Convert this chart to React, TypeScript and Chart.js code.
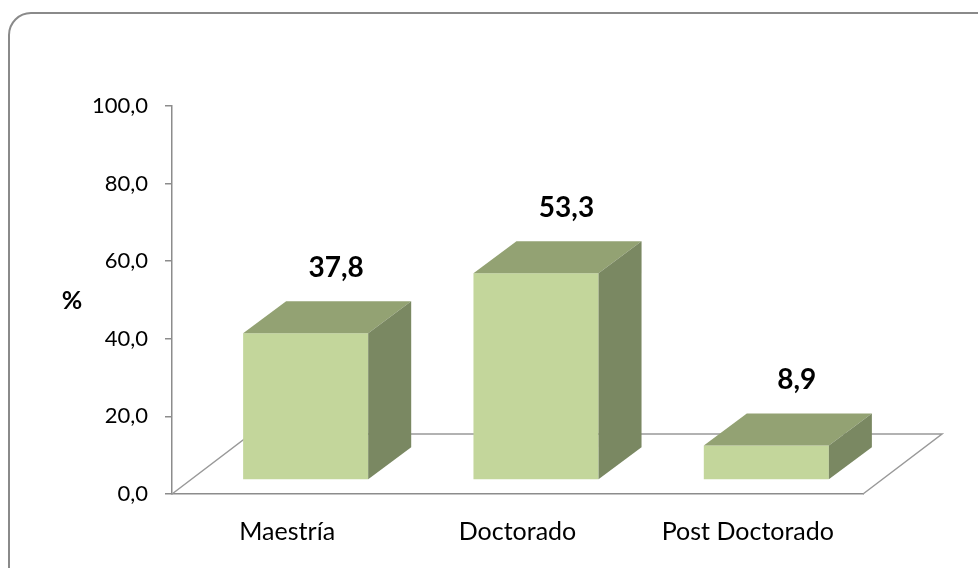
import React, { useEffect, useRef } from "react";
import { Chart, registerables } from "chart.js";

Chart.register(...registerables);

const categories: string[] = ["Maestría", "Doctorado", "Post Doctorado"];
const values: number[] = [37.8, 53.3, 8.9];
const yTicks: number[] = [0, 20, 40, 60, 80, 100];
const yAxisTitle = "%";

const FRONT = "#C3D69B";
const TOP = "#93A273";
const SIDE = "#7A8862";
const AXIS = "#8C8C8C";
const FONT = "Lato, 'Open Sans', sans-serif";

const fmt = (v: number) => v.toFixed(1).replace(".", ",");

const OFF_X = 18.5;
const OFF_Y = -14;
const BAR_DX = 43;
const BAR_DY = -32;
const FLOOR_DX = 79;
const FLOOR_DY = -60;

const threeD = {
  id: "threeD",
  beforeDraw(chart: any) {
    const ctx = chart.ctx;
    ctx.save();
    ctx.strokeStyle = "#8A8A8A";
    ctx.lineWidth = 2;
    ctx.beginPath();
    ctx.roundRect(9, 13, 990, 600, 22);
    ctx.stroke();
    ctx.restore();
  },
  beforeDatasetsDraw(chart: any) {
    const { ctx, chartArea } = chart;
    const L = chartArea.left, R = chartArea.right;
    const B = chart.scales.y.getPixelForValue(0);
    ctx.save();
    ctx.strokeStyle = "#999999";
    ctx.lineWidth = 1.5;
    ctx.beginPath();
    ctx.moveTo(L, B);
    ctx.lineTo(L + FLOOR_DX, B + FLOOR_DY);
    ctx.lineTo(R + FLOOR_DX, B + FLOOR_DY);
    ctx.lineTo(R, B);
    ctx.stroke();
    ctx.restore();
  },
  beforeDatasetDraw(chart: any) {
    chart.ctx.save();
    chart.ctx.translate(OFF_X, OFF_Y);
  },
  afterDatasetDraw(chart: any) {
    chart.ctx.restore();
  },
  afterDatasetsDraw(chart: any) {
    const ctx = chart.ctx;
    const meta = chart.getDatasetMeta(0);
    ctx.save();
    meta.data.forEach((bar: any, i: number) => {
      const p = bar.getProps(["x", "y", "base", "width"], true);
      const l = p.x - p.width / 2 + OFF_X;
      const r = p.x + p.width / 2 + OFF_X;
      const t = p.y + OFF_Y;
      const b = p.base + OFF_Y;
      ctx.fillStyle = TOP;
      ctx.beginPath();
      ctx.moveTo(l, t);
      ctx.lineTo(l + BAR_DX, t + BAR_DY);
      ctx.lineTo(r + BAR_DX, t + BAR_DY);
      ctx.lineTo(r, t);
      ctx.closePath();
      ctx.fill();
      ctx.fillStyle = SIDE;
      ctx.beginPath();
      ctx.moveTo(r, t);
      ctx.lineTo(r + BAR_DX, t + BAR_DY);
      ctx.lineTo(r + BAR_DX, b + BAR_DY);
      ctx.lineTo(r, b);
      ctx.closePath();
      ctx.fill();
      ctx.fillStyle = "#000";
      ctx.font = `bold 28px ${FONT}`;
      ctx.textAlign = "center";
      ctx.textBaseline = "middle";
      ctx.fillText(fmt(values[i]), p.x + 49, p.y - 79);
    });
    ctx.font = `bold 25px ${FONT}`;
    ctx.textAlign = "center";
    ctx.textBaseline = "middle";
    ctx.fillText(yAxisTitle, 72, 301);
    ctx.restore();
  },
};

export default function App() {
  const ref = useRef<HTMLCanvasElement>(null);
  useEffect(() => {
    document.body.style.margin = "0";
    const chart = new Chart(ref.current!, {
      type: "bar",
      data: {
        labels: categories,
        datasets: [
          {
            data: values,
            backgroundColor: FRONT,
            borderWidth: 0,
            barPercentage: 1,
            categoryPercentage: 0.543,
          },
        ],
      },
      options: {
        responsive: false,
        animation: false,
        devicePixelRatio: 1,
        layout: { padding: { left: 80, top: 106, right: 115, bottom: 0 } },
        plugins: { legend: { display: false }, tooltip: { enabled: false } },
        scales: {
          x: {
            grid: { display: false },
            border: { display: true, color: AXIS, width: 1.5 },
            ticks: { font: { family: FONT, size: 25 }, color: "#000", padding: 15 },
            afterFit: (s: any) => {
              s.height = 74;
            },
          },
          y: {
            min: 0,
            max: 100,
            afterBuildTicks: (s: any) => {
              s.ticks = yTicks.map((v) => ({ value: v }));
            },
            grid: { drawOnChartArea: false, drawTicks: true, tickLength: 7, color: AXIS, lineWidth: 1.5 },
            border: { display: true, color: AXIS, width: 1.5 },
            ticks: {
              font: { family: FONT, size: 22 },
              color: "#000",
              padding: 17,
              callback: (v: any) => fmt(Number(v)),
            },
            afterFit: (s: any) => {
              s.width = 92;
            },
          },
        },
      },
      plugins: [threeD],
    });
    return () => chart.destroy();
  }, []);
  return <canvas ref={ref} width={978} height={568} style={{ display: "block" }} />;
}
